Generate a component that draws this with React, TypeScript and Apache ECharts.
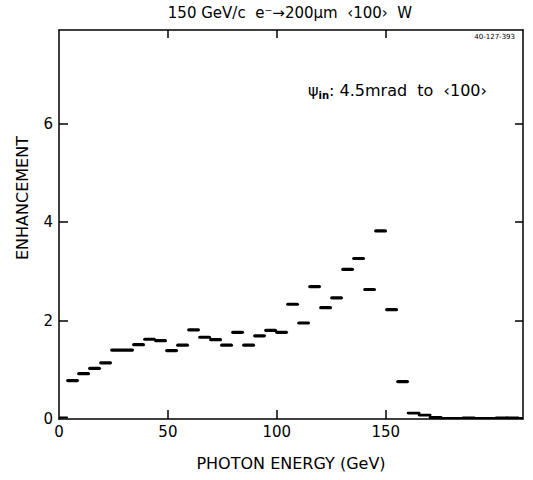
import React, { useEffect, useRef } from "react";
import * as echarts from "echarts";

// Photon energy bins (GeV): first bin edge and bin width
const firstBinEdge = 3.7;
const binWidth = 5.05;
// Enhancement values for the separated bins (before the edge at ~160 GeV)
const enhancementMain = [
  0.78, 0.92, 1.03, 1.14, 1.40, 1.40, 1.51, 1.62, 1.59, 1.39,
  1.50, 1.81, 1.66, 1.61, 1.50, 1.76, 1.50, 1.69, 1.80, 1.76,
  2.33, 1.95, 2.69, 2.26, 2.46, 3.04, 3.26, 2.63, 3.82, 2.22,
  0.76,
];
// Enhancement values above the edge (joined staircase near zero)
const enhancementTail = [0.12, 0.08, 0.03, 0.01, 0.01, 0.02, 0.01, 0.01, 0.02, 0.02, 0.01];
// Lowest partial bin (0 - firstBinEdge)
const enhancementLow = 0.03;

const xTickValues = [50, 100, 150];
const xLabelValues = [0, 50, 100, 150];
const yTickValues = [2, 4, 6];
const yLabelValues = [0, 2, 4, 6];

const FONT = "DejaVu Sans";

export default function App() {
  const ref = useRef<HTMLDivElement>(null);
  useEffect(() => {
    if (!ref.current) return;
    const chart = echarts.init(ref.current, undefined, { renderer: "svg" });

    const mainData = enhancementMain.map((v, i) => [
      firstBinEdge + i * binWidth,
      firstBinEdge + (i + 1) * binWidth,
      v,
    ]);
    const tailStart = firstBinEdge + enhancementMain.length * binWidth;
    const tailData = enhancementTail.map((v, i) => [
      tailStart + i * binWidth,
      Math.min(213, tailStart + (i + 1) * binWidth),
      v,
    ]);
    const lowData = [[0, firstBinEdge, enhancementLow]];

    const seg = (inset: number, width: number) => (params: any, api: any) => {
      const lo = api.value(0) as number;
      const hi = api.value(1) as number;
      const v = api.value(2) as number;
      const p1 = api.coord([lo + inset, v]);
      const p2 = api.coord([hi - inset, v]);
      return {
        type: "line",
        shape: { x1: p1[0], y1: p1[1], x2: p2[0], y2: p2[1] },
        style: { stroke: "#000", lineWidth: width, lineCap: "round" },
      };
    };

    const axisLine = { show: true, onZero: false, lineStyle: { color: "#000", width: 1.5 } };
    const tick = (len: number, vals: number[]) => ({
      show: true,
      inside: true,
      length: len,
      customValues: vals,
      lineStyle: { color: "#000", width: 1.5 },
    });

    chart.setOption({
      animation: false,
      backgroundColor: "#fff",
      textStyle: { fontFamily: FONT },
      grid: { left: 59, right: 10, top: 30, bottom: 61 },
      xAxis: [
        {
          type: "value",
          position: "bottom",
          min: 0,
          max: 213,
          interval: 50,
          axisLine,
          splitLine: { show: false },
          axisTick: tick(9, xTickValues),
          axisLabel: {
            customValues: xLabelValues,
            color: "#000",
            fontSize: 15,
            fontFamily: FONT,
            margin: 5,
          },
          name: "PHOTON ENERGY (GeV)",
          nameLocation: "middle",
          nameGap: 36,
          nameTextStyle: { color: "#000", fontSize: 16, fontFamily: FONT },
        },
        {
          type: "value",
          position: "top",
          min: 0,
          max: 213,
          interval: 50,
          axisLine,
          splitLine: { show: false },
          axisTick: tick(8, xTickValues),
          axisLabel: { show: false },
        },
      ],
      yAxis: [
        {
          type: "value",
          position: "left",
          min: 0,
          max: 7.9,
          interval: 2,
          axisLine,
          splitLine: { show: false },
          axisTick: tick(9, yTickValues),
          axisLabel: {
            customValues: yLabelValues,
            color: "#000",
            fontSize: 15,
            fontFamily: FONT,
            margin: 6,
          },
        },
        {
          type: "value",
          position: "right",
          min: 0,
          max: 7.9,
          interval: 2,
          axisLine,
          splitLine: { show: false },
          axisTick: tick(8, yTickValues),
          axisLabel: { show: false },
        },
      ],
      series: [
        {
          type: "custom",
          xAxisIndex: 0,
          yAxisIndex: 0,
          clip: true,
          renderItem: seg(0.3, 3.2),
          encode: { x: [0, 1], y: 2 },
          data: mainData,
        },
        {
          type: "custom",
          xAxisIndex: 0,
          yAxisIndex: 0,
          clip: true,
          renderItem: seg(0, 2.8),
          encode: { x: [0, 1], y: 2 },
          data: tailData,
        },
        {
          type: "custom",
          xAxisIndex: 0,
          yAxisIndex: 0,
          clip: true,
          renderItem: seg(0, 2),
          encode: { x: [0, 1], y: 2 },
          data: lowData,
        },
      ],
      graphic: [
        {
          type: "text",
          x: 290,
          y: 13,
          style: {
            text: "150 GeV/c  e\u207B\u2192200\u00B5m  \u2039100\u203A  W",
            fill: "#000",
            font: `15px "${FONT}"`,
            textAlign: "center",
            textVerticalAlign: "middle",
          },
        },
        {
          type: "text",
          x: 22,
          y: 198,
          rotation: Math.PI / 2,
          style: {
            text: "ENHANCEMENT",
            fill: "#000",
            font: `16px "${FONT}"`,
            textAlign: "center",
            textVerticalAlign: "middle",
          },
        },
        {
          type: "text",
          x: 308,
          y: 90,
          style: {
            text: "{a|\u03C8}{sub|in}{a|: 4.5mrad  to  \u2039100\u203A}",
            textVerticalAlign: "middle",
            rich: {
              a: { fontSize: 16, fontFamily: FONT, fill: "#000" },
              sub: {
                fontSize: 10,
                fontWeight: "bold",
                fontFamily: FONT,
                fill: "#000",
                padding: [10, 0, 0, 0],
              },
            },
          },
        },
        {
          type: "text",
          x: 515,
          y: 37,
          style: {
            text: "40-127-393",
            fill: "#000",
            font: `7px "${FONT}"`,
            textAlign: "right",
            textVerticalAlign: "middle",
          },
        },
      ],
    });
    return () => chart.dispose();
  }, []);
  return (
    <div
      ref={ref}
      style={{ position: "absolute", left: 0, top: 0, width: 533, height: 480 }}
    />
  );
}
